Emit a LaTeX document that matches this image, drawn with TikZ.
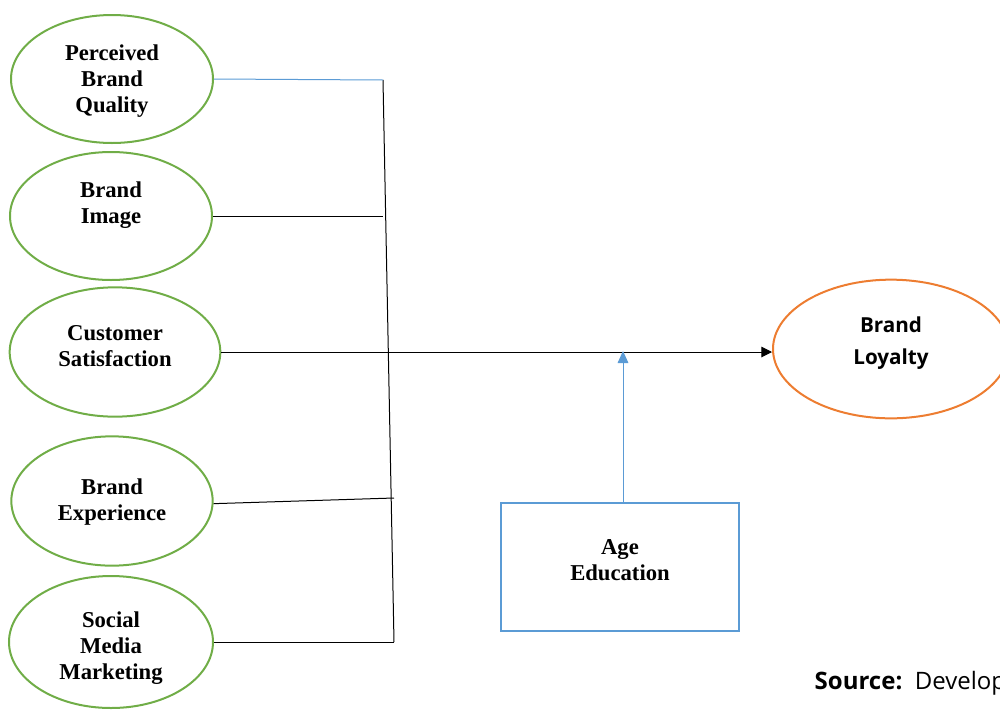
\documentclass[tikz,border=0pt]{standalone}
\usepackage{fontspec}
\setmainfont{Liberation Serif}
\newfontfamily\uifont{Open Sans}
\usetikzlibrary{shapes.geometric,arrows.meta}
\definecolor{vargreen}{HTML}{70AD47}
\definecolor{varorange}{HTML}{ED7D31}
\definecolor{modblue}{HTML}{5B9BD5}
\tikzset{
    var/.style={ellipse, draw=vargreen, line width=1.5pt, inner sep=0pt},
    vtext/.style={align=center, font=\fontsize{17}{19.5}\selectfont\bfseries},
    link/.style={line width=0.75pt}
}

\begin{document}
\begin{tikzpicture}[x=0.75pt,y=-0.75pt]
    \useasboundingbox (0,0) rectangle (1000,711);
    \clip (0,0) rectangle (1000,711);

    % independent variables
    \node (pbq) [var, minimum width=151.5pt, minimum height=96pt] at (112,79) {};
    \node (pbq-t) [vtext] at (112,81) {Perceived\\Brand\\Quality};
    \node (bimg) [var, minimum width=151.5pt, minimum height=96pt] at (111,216) {};
    \node (bimg-t) [vtext] at (111,205) {Brand\\Image};
    \node (csat) [var, minimum width=158pt, minimum height=97pt] at (115,352) {};
    \node (csat-t) [vtext] at (115,346) {Customer\\Satisfaction};
    \node (bexp) [var, minimum width=151pt, minimum height=97pt] at (112,501) {};
    \node (bexp-t) [vtext] at (112,502) {Brand\\Experience};
    \node (smm) [var, minimum width=153pt, minimum height=99pt] at (111,642) {};
    \node (smm-t) [vtext] at (111,648) {Social\\Media\\Marketing};

    % dependent variable
    \node (loyal) [ellipse, draw=varorange, line width=1.5pt, inner sep=0pt,
        minimum width=177pt, minimum height=104pt] at (891,349) {};
    \node (loyal-t) [align=center, font=\uifont\fontsize{15.5}{24}\selectfont\bfseries]
        at (891,343) {Brand\\Loyalty};

    % moderators
    \node (demo) [draw=modblue, line width=1.5pt, minimum width=178.5pt,
        minimum height=96pt] at (620,567) {};
    \node (demo-t) [vtext] at (620,560) {Age\\Education};

    % joint line
    \coordinate (jt) at (383,80);
    \coordinate (jb) at (394,642);
    \coordinate (j2) at (383,216);
    \coordinate (j4) at (394,498);
    \coordinate (mod) at (623,351);

    \draw[link] (jt) -- (jb);
    \draw[link, draw=modblue] (pbq.east) -- (jt);
    \draw[link] (bimg.east) -- (j2);
    \draw[link] ([yshift=-2pt]bexp.east) -- (j4);
    \draw[link] (smm.east) -- (jb);
    \draw[link, -{Triangle[length=8pt,width=8pt]}] (csat.east) -- (csat.east -| loyal.west);
    \draw[link, draw=modblue, -{Triangle[length=9pt,width=8pt,fill=modblue]}]
        (demo.north -| mod) -- (mod);

    \node (src) [anchor=base west, font=\uifont\fontsize{18}{22}\selectfont]
        at (810,689) {\textbf{Source:}~~Develop};
\end{tikzpicture}
\end{document}
